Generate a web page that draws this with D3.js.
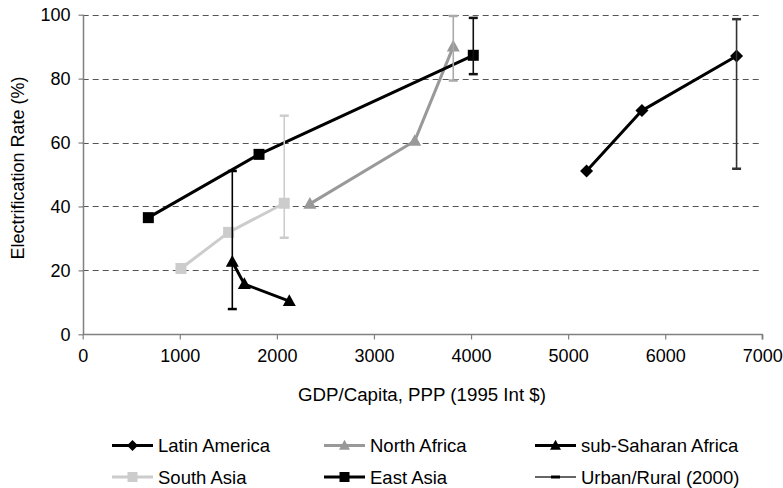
<!DOCTYPE html>
<html><head><meta charset="utf-8">
<script src="https://cdn.jsdelivr.net/npm/d3@7"></script>
<style>
html,body{margin:0;padding:0;background:#fff;}
text{font-family:"Liberation Sans",Arial,Helvetica,sans-serif;fill:#000;}
</style></head><body>
<svg id="chart" width="783" height="488"></svg>
<script>
// ---- data ----
const seriesNames = ["Latin America","North Africa","sub-Saharan Africa","South Asia","East Asia"];
const latinAmericaX = [5190, 5760, 6735];
const latinAmericaY = [51.1, 70.0, 87.1];
const northAfricaX = [2340, 3420, 3817];
const northAfricaY = [40.8, 60.5, 90.0];
const subSaharanX = [1541, 1665, 2128];
const subSaharanY = [22.7, 15.7, 10.4];
const southAsiaX = [1012, 1503, 2076];
const southAsiaY = [20.6, 31.9, 41.0];
const eastAsiaX = [676, 1816, 4023];
const eastAsiaY = [36.5, 56.3, 87.3];
// Urban/Rural (2000) range bars: region, gdp, rural (low), urban (high)
const urbanRuralRegion = ["Latin America","North Africa","sub-Saharan Africa","South Asia","East Asia"];
const urbanRuralX = [6735, 3817, 1541, 2076, 4023];
const urbanRuralLow = [51.8, 79.4, 7.9, 30.2, 81.4];
const urbanRuralHigh = [98.6, 99.6, 51.1, 68.4, 99.0];
const xTicks = [0,1000,2000,3000,4000,5000,6000,7000];
const yTicks = [0,20,40,60,80,100];

// ---- styles ----
const style = {
  "Latin America": {color:"#000", shape:"diamond", bar:"#333"},
  "North Africa": {color:"#999", shape:"triangle", bar:"#aaa"},
  "sub-Saharan Africa": {color:"#000", shape:"triangle", bar:"#000"},
  "South Asia": {color:"#ccc", shape:"square", bar:"#ccc"},
  "East Asia": {color:"#000", shape:"square", bar:"#111"}
};
const seriesData = {
  "Latin America": d3.zip(latinAmericaX, latinAmericaY),
  "North Africa": d3.zip(northAfricaX, northAfricaY),
  "sub-Saharan Africa": d3.zip(subSaharanX, subSaharanY),
  "South Asia": d3.zip(southAsiaX, southAsiaY),
  "East Asia": d3.zip(eastAsiaX, eastAsiaY)
};

const svg = d3.select("#chart");
const x = d3.scaleLinear().domain([0,7000]).range([82.7, 762.3]);
const y = d3.scaleLinear().domain([0,100]).range([334.3, 14.7]);

// gridlines
svg.append("g").selectAll("line").data(yTicks.filter(d=>d>0)).join("line")
  .attr("x1", x(0)).attr("x2", x(7000))
  .attr("y1", d=>Math.round(y(d))+0.5).attr("y2", d=>Math.round(y(d))+0.5)
  .attr("stroke","#555").attr("stroke-width",1).attr("stroke-dasharray","6,4");

// axes
const gx = svg.append("g").attr("transform",`translate(0,${Math.round(y(0))+0.5})`)
  .call(d3.axisBottom(x).tickValues(xTicks).tickSize(5).tickPadding(10).tickFormat(d3.format("d")));
const gy = svg.append("g").attr("transform",`translate(${Math.round(x(0))+0.5},0)`)
  .call(d3.axisLeft(y).tickValues(yTicks).tickSize(5).tickPadding(8).tickFormat(d3.format("d")));
[gx,gy].forEach(g=>{
  g.select(".domain").attr("stroke","#808080").attr("stroke-width",1.5);
  g.selectAll(".tick line").attr("stroke","#808080").attr("stroke-width",1.2);
  g.selectAll(".tick text").attr("font-size",18).attr("fill","#000")
    .style("font-family",'"Liberation Sans",Arial,sans-serif');
});
gx.select(".domain").attr("d", `M${x(0)},0V0H${x(7000)}V5`);
gy.select(".domain").attr("d", `M0,${y(100)}V${y(0)}`);

// axis titles
svg.append("text").attr("x", 422).attr("y", 401).attr("text-anchor","middle")
  .attr("font-size",18.7).text("GDP/Capita, PPP (1995 Int $)");
svg.append("text").attr("transform","translate(24,168) rotate(-90)").attr("text-anchor","middle")
  .attr("font-size",18).text("Electrification Rate (%)");

// marker path generator
function markerPath(shape, s){
  if(shape==="square") return d3.symbol(d3.symbolSquare, s*s)();
  if(shape==="diamond"){const r=s/2; return `M0,${-r}L${r},0L0,${r}L${-r},0Z`;}
  if(shape==="triangle"){const w=s/2, h=s*0.9; return `M0,${-h*0.58}L${w},${h*0.42}L${-w},${h*0.42}Z`;}
}

// series lines & markers
const drawOrder = ["South Asia","North Africa","sub-Saharan Africa","East Asia","Latin America"];
const line = d3.line().x(d=>x(d[0])).y(d=>y(d[1]));
drawOrder.forEach(name=>{
  const st = style[name];
  const g = svg.append("g");
  g.append("path").datum(seriesData[name]).attr("d", line)
    .attr("fill","none").attr("stroke", st.color).attr("stroke-width",3).attr("stroke-linejoin","round");
  g.selectAll("path.m").data(seriesData[name]).join("path").attr("class","m")
    .attr("transform", d=>`translate(${x(d[0])},${y(d[1])})`)
    .attr("d", markerPath(st.shape, st.shape==="square"?11:13))
    .attr("fill", st.color);
});

// urban/rural bars
const bars = svg.append("g");
urbanRuralRegion.forEach((name,i)=>{
  const col = style[name].bar;
  const cx = x(urbanRuralX[i]);
  bars.append("line").attr("x1",cx).attr("x2",cx)
    .attr("y1", y(urbanRuralHigh[i])).attr("y2", y(urbanRuralLow[i]))
    .attr("stroke", col).attr("stroke-width",1.6);
  [urbanRuralHigh[i], urbanRuralLow[i]].forEach(v=>{
    bars.append("line").attr("x1",cx-4.5).attr("x2",cx+4.5)
      .attr("y1", y(v)).attr("y2", y(v))
      .attr("stroke", col).attr("stroke-width",2.5);
  });
});

// legend
const legendItems = [
  {name:"Latin America", col:0, row:0},
  {name:"North Africa", col:1, row:0},
  {name:"sub-Saharan Africa", col:2, row:0},
  {name:"South Asia", col:0, row:1},
  {name:"East Asia", col:1, row:1},
  {name:"Urban/Rural (2000)", col:2, row:1}
];
const colX = [112, 324, 535];
const rowY = [445.5, 477];
legendItems.forEach(it=>{
  const lx = colX[it.col], ly = rowY[it.row];
  const g = svg.append("g").attr("transform",`translate(${lx},${ly})`);
  if(it.name==="Urban/Rural (2000)"){
    g.append("line").attr("x1",0).attr("x2",41).attr("stroke","#333").attr("stroke-width",1.5);
    g.append("line").attr("x1",16).attr("x2",25).attr("stroke","#000").attr("stroke-width",3);
  } else {
    const st = style[it.name];
    g.append("line").attr("x1",0).attr("x2",41).attr("stroke",st.color).attr("stroke-width",3);
    g.append("path").attr("transform","translate(20.5,0)")
      .attr("d", markerPath(st.shape, st.shape==="square"?10:11)).attr("fill",st.color);
  }
  g.append("text").attr("x",46).attr("y",0).attr("dy","0.36em")
    .attr("font-size",18.5).text(it.name);
});
</script>
</body></html>
